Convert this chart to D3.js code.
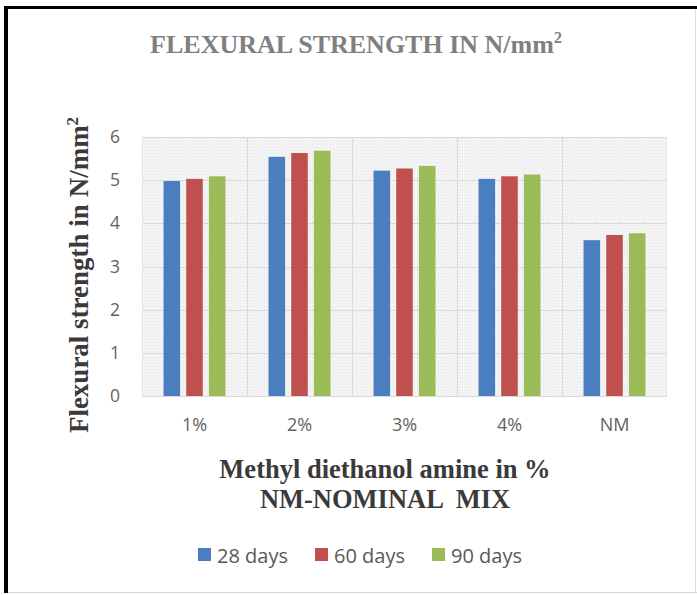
<!DOCTYPE html>
<html>
<head>
<meta charset="utf-8">
<script src="https://cdn.jsdelivr.net/npm/d3@7.9.0/dist/d3.min.js"></script>
<style>
  body { margin: 0; background: #fff; }
  svg { display: block; }
</style>
</head>
<body>
<svg id="chart" width="697" height="595"></svg>
<script>
// data
const categories = ['1%', '2%', '3%', '4%', 'NM'];
const seriesNames = ['28 days', '60 days', '90 days'];
const days28 = [4.98, 5.54, 5.22, 5.03, 3.61];
const days60 = [5.03, 5.63, 5.27, 5.09, 3.73];
const days90 = [5.09, 5.68, 5.33, 5.13, 3.77];
const yTicks = [0, 1, 2, 3, 4, 5, 6];
const colors = ['#4a7ebf', '#c0504d', '#9bbb59'];

const series = [days28, days60, days90];

const svg = d3.select('#chart');
const plot = { left: 142, right: 667, top: 137, bottom: 396 };

// frame
svg.append('rect').attr('x', 0).attr('y', 0).attr('width', 697).attr('height', 595).attr('fill', '#fff');
svg.append('rect').attr('x', 4).attr('y', 6).attr('width', 693).attr('height', 3).attr('fill', '#000');
svg.append('rect').attr('x', 4).attr('y', 6).attr('width', 4).attr('height', 587).attr('fill', '#000');
svg.append('line').attr('x1', 695.5).attr('x2', 695.5).attr('y1', 9).attr('y2', 592).attr('stroke', '#ddd');
svg.append('line').attr('x1', 8).attr('x2', 697).attr('y1', 592.5).attr('y2', 592.5).attr('stroke', '#d6d6d6');

// dotted plot background
const defs = svg.append('defs');
const pat = defs.append('pattern').attr('id', 'dots')
  .attr('width', 3).attr('height', 3).attr('patternUnits', 'userSpaceOnUse');
pat.append('rect').attr('width', 3).attr('height', 3).attr('fill', '#f6f6f6');
pat.append('rect').attr('width', 1).attr('height', 1).attr('fill', '#e2e2e2');
pat.append('rect').attr('x', 1.5).attr('y', 1.5).attr('width', 1).attr('height', 1).attr('fill', '#e6e6e6');

const x = d3.scaleBand().domain(categories).range([plot.left, plot.right]);
const x1 = d3.scaleBand().domain(d3.range(seriesNames.length))
  .range([0, x.bandwidth()]).paddingInner(0.27).paddingOuter(0.95);
const y = d3.scaleLinear().domain([0, 6]).range([plot.bottom, plot.top]);

svg.append('rect')
  .attr('x', plot.left).attr('y', plot.top)
  .attr('width', plot.right - plot.left).attr('height', plot.bottom - plot.top)
  .attr('fill', 'url(#dots)');

// gridlines
svg.append('g').selectAll('line').data(yTicks).join('line')
  .attr('x1', plot.left).attr('x2', plot.right)
  .attr('y1', d => Math.round(y(d)) + 0.5).attr('y2', d => Math.round(y(d)) + 0.5)
  .attr('stroke', '#d9d9d9');
svg.append('g').selectAll('line').data(categories.slice(1)).join('line')
  .attr('x1', d => Math.round(x(d)) + 0.5).attr('x2', d => Math.round(x(d)) + 0.5)
  .attr('y1', plot.top).attr('y2', plot.bottom)
  .attr('stroke', '#d9d9d9');
svg.append('line').attr('x1', plot.left + 0.5).attr('x2', plot.left + 0.5)
  .attr('y1', plot.top).attr('y2', plot.bottom).attr('stroke', '#e4e4e4');
svg.append('line').attr('x1', plot.right - 0.5).attr('x2', plot.right - 0.5)
  .attr('y1', plot.top).attr('y2', plot.bottom).attr('stroke', '#e4e4e4');

// bars
series.forEach((vals, s) => {
  svg.append('g').selectAll('rect').data(vals).join('rect')
    .attr('x', (d, i) => x(categories[i]) + x1(s))
    .attr('width', x1.bandwidth())
    .attr('y', d => y(d))
    .attr('height', d => y(0) - y(d))
    .attr('fill', colors[s]);
});

// axes
const yAxis = svg.append('g').attr('transform', 'translate(120,0)')
  .call(d3.axisLeft(y).tickValues(yTicks).tickFormat(d3.format('d')).tickSize(0).tickPadding(0));
yAxis.select('.domain').remove();
yAxis.selectAll('text').attr('font-family', 'Open Sans, sans-serif')
  .attr('font-size', 17.5).attr('fill', '#626262');

const xAxis = svg.append('g').attr('transform', `translate(0,${plot.bottom + 22})`)
  .call(d3.axisBottom(x).tickSize(0).tickPadding(0));
xAxis.select('.domain').remove();
xAxis.selectAll('text').attr('font-family', 'Open Sans, sans-serif')
  .attr('font-size', 18).attr('fill', '#626262');

// titles
const title = svg.append('text').attr('x', 356).attr('y', 53)
  .attr('text-anchor', 'middle')
  .attr('font-family', 'Liberation Serif, serif').attr('font-weight', 'bold')
  .attr('font-size', 26).attr('fill', '#7f7f7f');
title.append('tspan').text('FLEXURAL STRENGTH IN N/mm');
title.append('tspan').attr('dy', -10).attr('font-size', 16).text('2');

const yTitle = svg.append('text')
  .attr('transform', 'translate(88,275) rotate(-90)')
  .attr('text-anchor', 'middle')
  .attr('font-family', 'Liberation Serif, serif').attr('font-weight', 'bold')
  .attr('font-size', 27).attr('fill', '#3a3a3a');
yTitle.append('tspan').text('Flexural strength in N/mm');
yTitle.append('tspan').attr('dy', -10).attr('font-size', 17).text('2');

svg.append('text').attr('x', 385).attr('y', 478).attr('text-anchor', 'middle')
  .attr('font-family', 'Liberation Serif, serif').attr('font-weight', 'bold')
  .attr('font-size', 26.5).attr('fill', '#3a3a3a')
  .text('Methyl diethanol amine in %');
svg.append('text').attr('x', 385).attr('y', 508).attr('text-anchor', 'middle')
  .attr('font-family', 'Liberation Serif, serif').attr('font-weight', 'bold')
  .attr('font-size', 26.5).attr('fill', '#3a3a3a')
  .attr('xml:space', 'preserve')
  .text('NM-NOMINAL  MIX');

// legend
const legendX = [198, 315, 432];
const lg = svg.append('g').selectAll('g').data(seriesNames).join('g')
  .attr('transform', (d, i) => `translate(${legendX[i]},554)`);
lg.append('rect').attr('x', 0).attr('y', -6).attr('width', 13).attr('height', 13)
  .attr('fill', (d, i) => colors[i]);
lg.append('text').attr('x', 19).attr('y', 9)
  .attr('font-family', 'Open Sans, sans-serif').attr('font-size', 20)
  .attr('fill', '#595959').text(d => d);
</script>
</body>
</html>
